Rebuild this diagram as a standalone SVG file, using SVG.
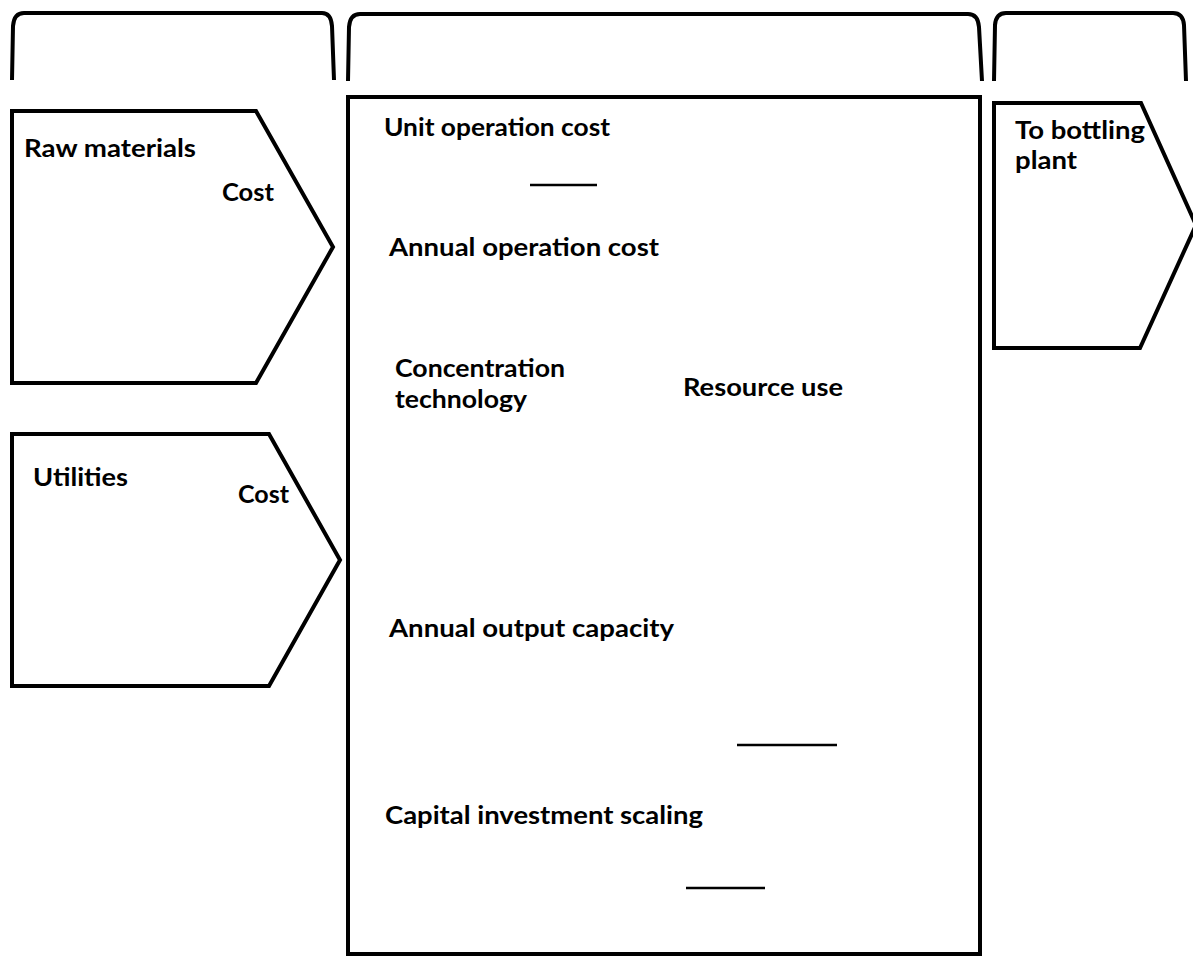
<svg xmlns="http://www.w3.org/2000/svg" width="1193" height="956" viewBox="0 0 1193 956">
<style>
.s{fill:none;stroke:#000;stroke-width:4;stroke-linejoin:miter}
.b{fill:none;stroke:#000;stroke-width:4;stroke-linecap:butt}
.t{font-family:Lato,"Liberation Sans",sans-serif;font-weight:bold;font-size:25px;fill:#000}
.u{stroke:#000;stroke-width:2.5}
</style>
<rect width="1193" height="956" fill="#fff"/>
<g id="brackets">
<path class="b" d="M12,80 L13,26 Q14,13 24,13 L322,13 Q331,13 332,26 L334,80"/>
<path class="b" d="M348,81 L349,27 Q350,14 360,14 L968,14 Q978,14 979,27 L982,81"/>
<path class="b" d="M994,81 L995,25 Q996,13 1006,13 L1173,13 Q1183,13 1184,25 L1186,81"/>
</g>
<g id="process">
<rect class="s" x="348" y="97" width="632" height="857"/>
<text class="t" x="384" y="136" textLength="226" lengthAdjust="spacingAndGlyphs">Unit operation cost</text>
<text class="t" x="389" y="256" textLength="270" lengthAdjust="spacingAndGlyphs">Annual operation cost</text>
<text class="t" x="395" y="377" textLength="170" lengthAdjust="spacingAndGlyphs">Concentration</text>
<text class="t" x="395" y="408" textLength="132" lengthAdjust="spacingAndGlyphs">technology</text>
<text class="t" x="683" y="396" textLength="160" lengthAdjust="spacingAndGlyphs">Resource use</text>
<text class="t" x="389" y="637" textLength="285" lengthAdjust="spacingAndGlyphs">Annual output capacity</text>
<text class="t" x="385" y="824" textLength="318" lengthAdjust="spacingAndGlyphs">Capital investment scaling</text>
</g>
<g id="raw-materials">
<polygon class="s" points="12,111 256,111 333,247 256,383 12,383"/>
<text class="t" x="24" y="157" textLength="172" lengthAdjust="spacingAndGlyphs">Raw materials</text>
<text class="t" x="222" y="201" textLength="52" lengthAdjust="spacingAndGlyphs">Cost</text>
</g>
<g id="utilities">
<polygon class="s" points="12,434 269,434 340,560 269,686 12,686"/>
<text class="t" x="33" y="486" textLength="95" lengthAdjust="spacingAndGlyphs">Utilities</text>
<text class="t" x="238" y="503" textLength="51" lengthAdjust="spacingAndGlyphs">Cost</text>
</g>
<g id="bottling">
<polygon class="s" points="994,103 1141,103 1196,225 1140,348 994,348"/>
<text class="t" x="1015" y="139" textLength="130" lengthAdjust="spacingAndGlyphs">To bottling</text>
<text class="t" x="1015" y="169" textLength="62" lengthAdjust="spacingAndGlyphs">plant</text>
</g>
<g id="connectors">
<line class="u" x1="530" y1="185" x2="597" y2="185"/>
<line class="u" x1="737" y1="745" x2="837" y2="745"/>
<line class="u" x1="686" y1="888" x2="765" y2="888"/>
</g>
</svg>
